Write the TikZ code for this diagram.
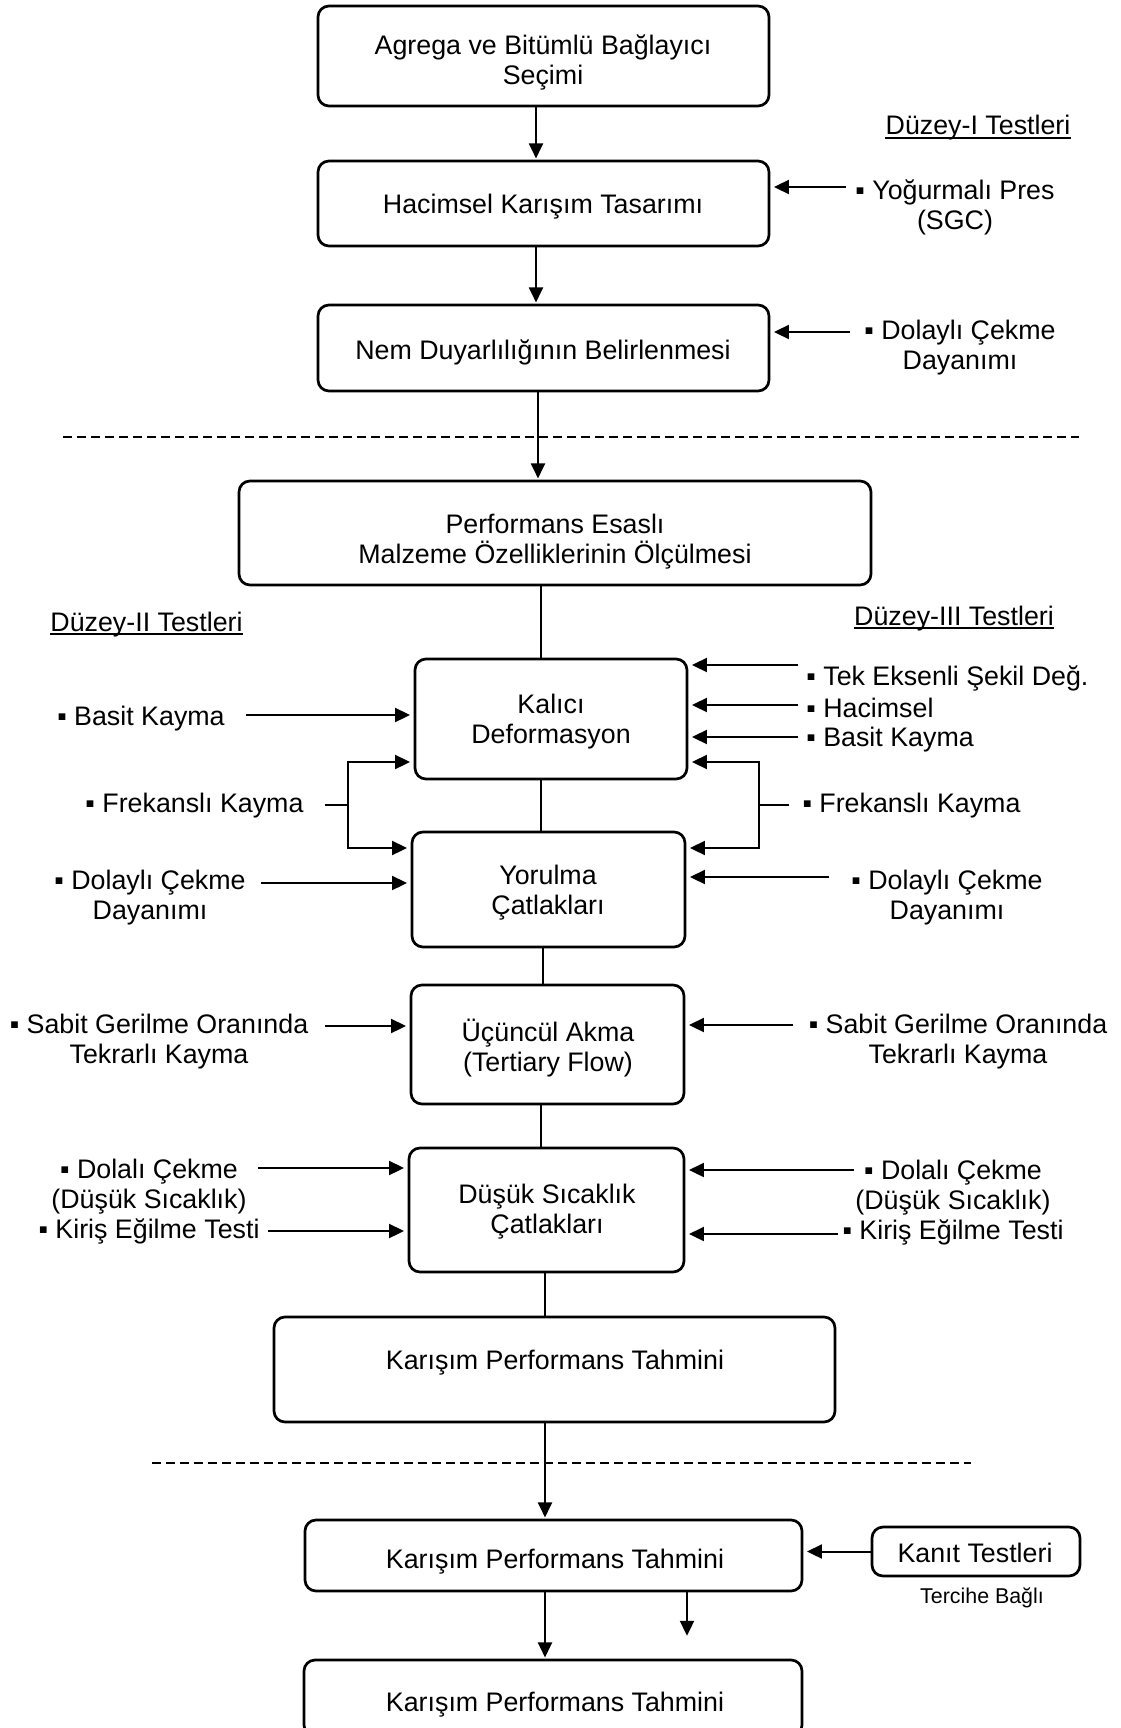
\documentclass[tikz,border=0pt]{standalone}
\usepackage{fontspec}
\setmainfont{Liberation Sans}
\usetikzlibrary{arrows.meta,calc}
\begin{document}
\begin{tikzpicture}[x=0.5pt,y=-0.5pt,
  box/.style={draw,line width=1.35pt,rounded corners=5.5pt,inner sep=0pt},
  txt/.style={font=\fontsize{13.4}{15}\selectfont,align=center,inner sep=0pt},
  smalltxt/.style={font=\fontsize{10.7}{12}\selectfont,inner sep=0pt},
  conn/.style={line width=1pt},
  arr/.style={line width=1pt,shorten >=0.6pt,-{Triangle[length=7.5pt,width=7pt]}},
  sarr/.style={arr,shorten >=1.8pt},
  dashline/.style={line width=1pt,dash pattern=on 4.5pt off 2.5pt},
  uline/.style={line width=0.9pt}]
\useasboundingbox (0,0) rectangle (1120,1728);
\fill[white] (0,0) rectangle (1120,1728);
\clip (0,0) rectangle (1120,1728);

% ---------- boxes ----------
\node[box,minimum width=225.5pt,minimum height=50pt] (b1) at (543.5,56) {};
\node[box,minimum width=225.5pt,minimum height=42.5pt] (b2) at (543.5,203.5) {};
\node[box,minimum width=225.5pt,minimum height=43pt] (b3) at (543.5,348) {};
\node[box,minimum width=316pt,minimum height=52pt] (b4) at (555,533) {};
\node[box,minimum width=136pt,minimum height=60pt] (b5) at (551,719) {};
\node[box,minimum width=136.5pt,minimum height=57.5pt] (b6) at (548.5,889.5) {};
\node[box,minimum width=136.5pt,minimum height=59.5pt] (b7) at (547.5,1044.5) {};
\node[box,minimum width=137.5pt,minimum height=62pt] (b8) at (546.5,1210) {};
\node[box,minimum width=280.5pt,minimum height=52.5pt] (b9) at (554.5,1369.5) {};
\node[box,minimum width=248.5pt,minimum height=35.5pt] (b10) at (553.5,1555.5) {};
\node[box,minimum width=249pt,minimum height=38pt] (b11) at (553,1698) {};
\node[box,minimum width=104pt,minimum height=24.5pt] (kanit) at (976,1551.5) {};

% ---------- box texts ----------
\node[txt] (t1) at (543,62) {Agrega ve Bitümlü Bağlayıcı\\Seçimi};
\node[txt] (t2) at (543,207) {Hacimsel Karışım Tasarımı};
\node[txt] (t3) at (543,352) {Nem Duyarlılığının Belirlenmesi};
\node[txt] (t4) at (555,542) {Performans Esaslı\\Malzeme Özelliklerinin Ölçülmesi};
\node[txt] (t5) at (551,722) {Kalıcı\\Deformasyon};
\node[txt] (t6) at (548,893) {Yorulma\\Çatlakları};
\node[txt] (t7) at (548,1048) {Üçüncül Akma\\(Tertiary Flow)};
\node[txt] (t8) at (547,1212) {Düşük Sıcaklık\\Çatlakları};
\node[txt] (t9) at (555,1363) {Karışım Performans Tahmini};
\node[txt] (t10) at (555,1562) {Karışım Performans Tahmini};
\node[txt] (t11) at (555,1705) {Karışım Performans Tahmini};
\node[txt] (tk) at (975,1553) {Kanıt Testleri};
\node[smalltxt] (tb) at (982,1598) {Tercihe Bağlı};

% ---------- headings ----------
\node[txt,anchor=base] (h1) at (978,135) {Düzey-I Testleri};
\draw[uline] ($(h1.base west)+(0,3)$) -- ($(h1.base east)+(0,3)$);
\node[txt,anchor=base] (h2) at (146.5,631) {Düzey-II Testleri};
\draw[uline] ($(h2.base west)+(0,3)$) -- ($(h2.base east)+(0,3)$);
\node[txt,anchor=base] (h3) at (954,625) {Düzey-III Testleri};
\draw[uline] ($(h3.base west)+(0,3)$) -- ($(h3.base east)+(0,3)$);

% ---------- side labels ----------
\node[txt] (yog) at (955,207) {▪ Yoğurmalı Pres\\(SGC)};
\node[txt] (dol1) at (960,348) {▪ Dolaylı Çekme\\Dayanımı};
\node[txt,anchor=base west] (k1) at (806,685) {▪ Tek Eksenli Şekil Değ.};
\node[txt,anchor=base west] (k2) at (806,717) {▪ Hacimsel};
\node[txt,anchor=base west] (k3) at (806,746) {▪ Basit Kayma};
\node[txt,anchor=base] (basL) at (141,725) {▪ Basit Kayma};
\node[txt,anchor=base] (frL) at (194.5,812) {▪ Frekanslı Kayma};
\node[txt,anchor=base] (frR) at (911.5,812) {▪ Frekanslı Kayma};
\node[txt] (dolL) at (150,898) {▪ Dolaylı Çekme\\Dayanımı};
\node[txt] (dolR) at (947,898) {▪ Dolaylı Çekme\\Dayanımı};
\node[txt] (sabL) at (159,1042) {▪ Sabit Gerilme Oranında\\Tekrarlı Kayma};
\node[txt] (sabR) at (958,1042) {▪ Sabit Gerilme Oranında\\Tekrarlı Kayma};
\node[txt] (dusL) at (149,1202) {▪ Dolalı Çekme\\(Düşük Sıcaklık)\\▪ Kiriş Eğilme Testi};
\node[txt] (dusR) at (953,1203) {▪ Dolalı Çekme\\(Düşük Sıcaklık)\\▪ Kiriş Eğilme Testi};

% ---------- dashed separators ----------
\coordinate (ds1a) at (63,437);
\coordinate (ds1b) at (1079,437);
\coordinate (ds2a) at (152,1463);
\coordinate (ds2b) at (971,1463);
\draw[dashline] (ds1a) -- (ds1b);
\draw[dashline] (ds2a) -- (ds2b);

% ---------- vertical connectors ----------
\coordinate (xa) at (536,0);
\coordinate (xb) at (538,0);
\coordinate (xc) at (541,0);
\coordinate (xd) at (543,0);
\coordinate (xe) at (545,0);
\draw[arr] (b1.south -| xa) -- (b2.north -| xa);
\draw[arr] (b2.south -| xa) -- (b3.north -| xa);
\draw[arr] (b3.south -| xb) -- (b4.north -| xb);
\draw[conn] (b4.south -| xc) -- (b5.north -| xc);
\draw[conn] (b5.south -| xc) -- (b6.north -| xc);
\draw[conn] (b6.south -| xd) -- (b7.north -| xd);
\draw[conn] (b7.south -| xc) -- (b8.north -| xc);
\draw[conn] (b8.south -| xe) -- (b9.north -| xe);
\draw[arr] (b9.south -| xe) -- (b10.north -| xe);
\draw[arr] (b10.south -| xe) -- (b11.north -| xe);
\coordinate (fe) at (687,1637);
\draw[arr] (b10.south -| fe) -- (fe);
\draw[sarr] (kanit.west) -- (b10.east |- kanit.west);

% ---------- side arrows, top ----------
\coordinate (yp) at (846,187);
\draw[sarr] (yp) -- (b2.east |- yp);
\coordinate (dc1) at (850,332);
\draw[sarr] (dc1) -- (b3.east |- dc1);

% ---------- Kalici ----------
\coordinate (r1) at (798,665);
\coordinate (r2) at (798,705);
\coordinate (r3) at (798,737);
\draw[sarr] (r1) -- (b5.east |- r1);
\draw[sarr] (r2) -- (b5.east |- r2);
\draw[sarr] (r3) -- (b5.east |- r3);
\coordinate (l1) at (246,715);
\draw[sarr] (l1) -- (b5.west |- l1);

% Frekansli left
\coordinate (fl) at (325,805);
\coordinate (fl2) at (348,805);
\coordinate (flt) at (348,762);
\coordinate (flb) at (348,848);
\draw[conn] (fl) -- (fl2);
\draw[sarr] (flb) -- (flt) -- (b5.west |- flt);
\draw[sarr] (flt) -- (flb) -- (b6.west |- flb);
% Frekansli right
\coordinate (fr) at (789,805);
\coordinate (fr2) at (759,805);
\coordinate (frt) at (759,762);
\coordinate (frb) at (759,848);
\draw[conn] (fr) -- (fr2);
\draw[sarr] (frb) -- (frt) -- (b5.east |- frt);
\draw[sarr] (frt) -- (frb) -- (b6.east |- frb);

% ---------- Yorulma ----------
\coordinate (l2) at (261,883);
\draw[sarr] (l2) -- (b6.west |- l2);
\coordinate (r4) at (829,877);
\draw[sarr] (r4) -- (b6.east |- r4);

% ---------- Tertiary ----------
\coordinate (l3) at (325,1026);
\draw[sarr] (l3) -- (b7.west |- l3);
\coordinate (r5) at (793,1025);
\draw[sarr] (r5) -- (b7.east |- r5);

% ---------- Dusuk ----------
\coordinate (l4) at (258,1168);
\coordinate (l5) at (268,1231);
\draw[sarr] (l4) -- (b8.west |- l4);
\draw[sarr] (l5) -- (b8.west |- l5);
\coordinate (r6) at (854,1170);
\coordinate (r7) at (838,1234);
\draw[sarr] (r6) -- (b8.east |- r6);
\draw[sarr] (r7) -- (b8.east |- r7);
\end{tikzpicture}
\end{document}
